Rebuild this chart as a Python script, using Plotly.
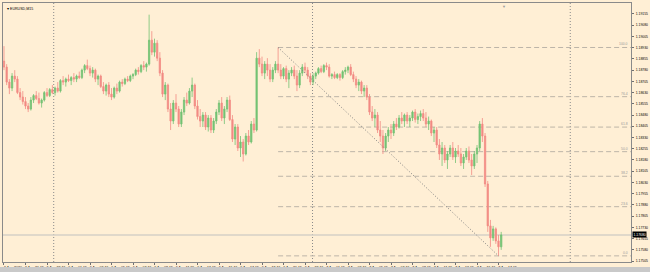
import plotly.graph_objects as go

# ---------------- data (EURUSD, M15) ----------------
open_ = [1.1884,1.1880,1.1870,1.1866,1.1874,1.1872,1.1863,1.1860,1.1857,1.1854,
 1.1852,1.1858,1.1861,1.1859,1.1856,1.1858,1.1863,1.1861,1.1865,1.1863,
 1.1866,1.1864,1.1871,1.1870,1.1872,1.1871,1.1873,1.1872,1.1874,1.1873,
 1.1878,1.1881,1.1879,1.1876,1.1878,1.1872,1.1874,1.1867,1.1864,1.1868,
 1.1862,1.1860,1.1866,1.1864,1.1870,1.1869,1.1872,1.1871,1.1874,1.1875,
 1.1878,1.1877,1.1881,1.1880,1.1882,1.1898,1.1890,1.1896,1.1886,1.1876,
 1.1862,1.1868,1.1852,1.1844,1.1856,1.1852,1.1842,1.1850,1.1858,1.1856,
 1.1864,1.1868,1.1854,1.1847,1.1844,1.1848,1.1840,1.1846,1.1838,1.1844,
 1.1850,1.1856,1.1846,1.1852,1.1858,1.1845,1.1832,1.1840,1.1826,1.1830,
 1.1822,1.1834,1.1830,1.1842,1.1838,1.1886,1.1882,1.1876,1.1882,1.1878,
 1.1872,1.1878,1.1882,1.1878,1.1874,1.1879,1.1872,1.1876,1.1878,1.1874,
 1.1868,1.1876,1.1880,1.1878,1.1874,1.1870,1.1874,1.1876,1.1879,1.1877,
 1.1881,1.1880,1.1874,1.1875,1.1873,1.1875,1.1873,1.1877,1.1878,1.1880,
 1.1875,1.1872,1.1868,1.1870,1.1864,1.1866,1.1860,1.1850,1.1846,1.1848,
 1.1838,1.1834,1.1826,1.1834,1.1838,1.1836,1.1842,1.1840,1.1846,1.1844,
 1.1848,1.1844,1.1846,1.1850,1.1845,1.1847,1.1849,1.1846,1.1842,1.1844,
 1.1836,1.1838,1.1828,1.1822,1.1826,1.1818,1.1822,1.1826,1.1820,1.1824,
 1.1822,1.1816,1.1820,1.1824,1.1818,1.1814,1.1822,1.1826,1.1842,1.1834,
 1.1802,1.1774,1.1766,1.1772,1.1764,1.1760]

high = [1.1894,1.1882,1.1872,1.1876,1.1878,1.1874,1.1866,1.1864,1.1860,1.1856,
 1.1860,1.1862,1.1864,1.1863,1.1859,1.1864,1.1866,1.1866,1.1868,1.1867,
 1.1870,1.1872,1.1874,1.1873,1.1875,1.1874,1.1876,1.1875,1.1877,1.1879,
 1.1882,1.1885,1.1881,1.1880,1.1879,1.1875,1.1875,1.1870,1.1869,1.1870,
 1.1866,1.1867,1.1869,1.1871,1.1872,1.1873,1.1874,1.1875,1.1876,1.1879,
 1.1880,1.1882,1.1884,1.1883,1.1915,1.1904,1.1899,1.1898,1.1890,1.1878,
 1.1870,1.1869,1.1856,1.1858,1.1862,1.1854,1.1852,1.1860,1.1863,1.1866,
 1.1873,1.1869,1.1858,1.1852,1.1850,1.1850,1.1848,1.1848,1.1846,1.1852,
 1.1858,1.1860,1.1854,1.1860,1.1861,1.1848,1.1842,1.1842,1.1834,1.1832,
 1.1836,1.1838,1.1844,1.1846,1.1890,1.1892,1.1887,1.1884,1.1886,1.1882,
 1.1880,1.1884,1.18931,1.1882,1.1880,1.1881,1.1878,1.1880,1.1881,1.1878,
 1.1878,1.1882,1.1883,1.1880,1.1876,1.1876,1.1877,1.1880,1.1881,1.1882,
 1.1883,1.1882,1.1876,1.1877,1.1876,1.1876,1.1878,1.1880,1.1881,1.1882,
 1.1877,1.1874,1.1872,1.1871,1.1868,1.1868,1.1862,1.1854,1.1852,1.1850,
 1.1844,1.1838,1.1836,1.1840,1.1842,1.1844,1.1846,1.1848,1.1850,1.1849,
 1.1850,1.1848,1.1851,1.1852,1.1849,1.1851,1.1852,1.1850,1.1847,1.1845,
 1.1840,1.1840,1.1832,1.1830,1.1828,1.1824,1.1828,1.1830,1.1826,1.1828,
 1.1826,1.1822,1.1826,1.1827,1.1822,1.1824,1.1828,1.1844,1.1846,1.1836,
 1.1804,1.1778,1.1774,1.1773,1.1768,1.1770]

low = [1.1878,1.1868,1.1862,1.1864,1.1870,1.1862,1.1858,1.1855,1.1852,1.1850,
 1.1851,1.1856,1.1858,1.1855,1.1853,1.1857,1.1860,1.1860,1.1862,1.1861,
 1.1863,1.1863,1.1868,1.1867,1.1870,1.1868,1.1870,1.1870,1.1872,1.1872,
 1.1876,1.1878,1.1874,1.1873,1.1870,1.1868,1.1866,1.1862,1.1861,1.1860,
 1.1858,1.1859,1.1862,1.1863,1.1867,1.1868,1.1870,1.1870,1.1872,1.1874,
 1.1875,1.1876,1.1878,1.1877,1.1881,1.1888,1.1887,1.1884,1.1874,1.1860,
 1.1858,1.1850,1.1838,1.1842,1.1850,1.1840,1.1840,1.1848,1.1854,1.1855,
 1.1860,1.1852,1.1845,1.1840,1.1840,1.1838,1.1837,1.1836,1.1836,1.1842,
 1.1848,1.1844,1.1842,1.1850,1.1844,1.1830,1.1828,1.1824,1.1820,1.1817,
 1.1821,1.1828,1.1829,1.1836,1.1837,1.1880,1.1874,1.1872,1.1874,1.1870,
 1.1870,1.1876,1.1876,1.1872,1.1872,1.1870,1.1866,1.1874,1.1872,1.1864,
 1.1866,1.1874,1.1876,1.1872,1.1868,1.1868,1.1872,1.1875,1.1876,1.1876,
 1.1878,1.1873,1.1872,1.1872,1.1872,1.1871,1.1872,1.1875,1.1876,1.1874,
 1.1870,1.1866,1.1864,1.1862,1.1860,1.1858,1.1848,1.1844,1.1840,1.1836,
 1.1830,1.1822,1.1824,1.1830,1.1832,1.1834,1.1838,1.1839,1.1842,1.1840,
 1.1842,1.1840,1.1844,1.1843,1.1842,1.1844,1.1844,1.1840,1.1838,1.1834,
 1.1830,1.1826,1.1818,1.1814,1.1816,1.1812,1.1820,1.1818,1.1816,1.1820,
 1.1814,1.1812,1.1818,1.1816,1.1808,1.1812,1.1816,1.1824,1.1830,1.1800,
 1.1770,1.1760,1.1764,1.1762,1.1754,1.1758]

close = [1.1880,1.1870,1.1866,1.1874,1.1872,1.1863,1.1860,1.1857,1.1854,1.1852,
 1.1858,1.1861,1.1859,1.1856,1.1858,1.1863,1.1861,1.1865,1.1863,1.1866,
 1.1864,1.1871,1.1870,1.1872,1.1871,1.1873,1.1872,1.1874,1.1873,1.1878,
 1.1881,1.1879,1.1876,1.1878,1.1872,1.1874,1.1867,1.1864,1.1868,1.1862,
 1.1860,1.1866,1.1864,1.1870,1.1869,1.1872,1.1871,1.1874,1.1875,1.1878,
 1.1877,1.1881,1.1880,1.1882,1.1898,1.1890,1.1896,1.1886,1.1876,1.1862,
 1.1868,1.1852,1.1844,1.1856,1.1852,1.1842,1.1850,1.1858,1.1856,1.1864,
 1.1868,1.1854,1.1847,1.1844,1.1848,1.1840,1.1846,1.1838,1.1844,1.1850,
 1.1856,1.1846,1.1852,1.1858,1.1845,1.1832,1.1840,1.1826,1.1830,1.1822,
 1.1834,1.1830,1.1842,1.1838,1.1886,1.1882,1.1876,1.1882,1.1878,1.1872,
 1.1878,1.1882,1.1878,1.1874,1.1879,1.1872,1.1876,1.1878,1.1874,1.1868,
 1.1876,1.1880,1.1878,1.1874,1.1870,1.1874,1.1876,1.1879,1.1877,1.1881,
 1.1880,1.1874,1.1875,1.1873,1.1875,1.1873,1.1877,1.1878,1.1880,1.1875,
 1.1872,1.1868,1.1870,1.1864,1.1866,1.1860,1.1850,1.1846,1.1848,1.1838,
 1.1834,1.1826,1.1834,1.1838,1.1836,1.1842,1.1840,1.1846,1.1844,1.1848,
 1.1844,1.1846,1.1850,1.1845,1.1847,1.1849,1.1846,1.1842,1.1844,1.1836,
 1.1838,1.1828,1.1822,1.1826,1.1818,1.1822,1.1826,1.1820,1.1824,1.1822,
 1.1816,1.1820,1.1824,1.1818,1.1814,1.1822,1.1826,1.1842,1.1834,1.1802,
 1.1774,1.1766,1.1772,1.1764,1.1760,1.1768]

time_tick_bars = [0, 8, 16, 24, 32, 40, 48, 56, 64, 72, 80, 88, 96, 104, 112,
                  120, 128, 136, 144, 152, 160, 168, 176, 184]
time_tick_labels = ["5 Aug 2020", "5 Aug 21:15", "5 Aug 23:15", "6 Aug 01:15",
                    "6 Aug 03:15", "6 Aug 05:15", "6 Aug 07:15", "6 Aug 09:15",
                    "6 Aug 11:15", "6 Aug 13:15", "6 Aug 15:15", "6 Aug 17:15",
                    "6 Aug 19:15", "6 Aug 21:15", "6 Aug 23:15", "7 Aug 01:15",
                    "7 Aug 03:15", "7 Aug 05:15", "7 Aug 07:15", "7 Aug 09:15",
                    "7 Aug 11:15", "7 Aug 13:15", "7 Aug 15:15", "7 Aug 17:15"]

price_ticks = [1.19155, 1.19080, 1.19005, 1.18930, 1.18855, 1.18780, 1.18705,
               1.18630, 1.18555, 1.18480, 1.18405, 1.18330, 1.18255, 1.18180,
               1.18105, 1.18030, 1.17955, 1.17880, 1.17805, 1.17730, 1.17655,
               1.17580, 1.17505]

day_separators = [18.5, 114.8, 210.7]      # bar positions of period separators
fib_anchor_bars = [102, 184]                # high bar -> low bar
fib_levels = [0.0, 23.6, 38.2, 50.0, 61.8, 76.4, 100.0]

symbol_title = "EURUSD,M15"

# ---------------- figure ----------------
BG = "#FFEFD5"
UP = "#74C274"
DOWN = "#F28B84"
bars = list(range(len(close)))
x_range = [-0.37, 233.3]
y_range = [1.17499, 1.19228]

fig = go.Figure()
fig.add_trace(go.Candlestick(
    x=bars, open=open_, high=high, low=low, close=close,
    increasing=dict(line=dict(color=UP, width=0.8), fillcolor=UP),
    decreasing=dict(line=dict(color=DOWN, width=0.8), fillcolor=DOWN),
    whiskerwidth=0, hoverinfo="skip", showlegend=False,
))

shapes = []
# period separators
for s in day_separators:
    shapes.append(dict(type="line", xref="x", yref="paper", x0=s, x1=s, y0=0, y1=1,
                       line=dict(color="#8a8a8a", width=1, dash="1px,2px"), layer="below"))
# current price line
shapes.append(dict(type="line", xref="paper", yref="y", x0=0, x1=1,
                   y0=close[-1], y1=close[-1],
                   line=dict(color="#D6D0C6", width=1.5), layer="below"))
# fibonacci
fhi = high[fib_anchor_bars[0]]
flo = low[fib_anchor_bars[1]]
annotations = []
for lv in fib_levels:
    yv = flo + (fhi - flo) * lv / 100.0
    shapes.append(dict(type="line", xref="x", yref="y", x0=fib_anchor_bars[0], x1=x_range[1],
                       y0=yv, y1=yv, line=dict(color="#BDB5A8", width=1, dash="5px,3px"),
                       layer="below"))
    annotations.append(dict(x=x_range[1], y=yv, xref="x", yref="y", xanchor="right",
                            yanchor="bottom", text=f"{lv:.1f}", showarrow=False,
                            font=dict(size=3.4, color="#9a9a9a", family="Liberation Sans"),
                            xshift=-1, yshift=-1))
shapes.append(dict(type="line", xref="x", yref="y", x0=fib_anchor_bars[0], y0=fhi,
                   x1=fib_anchor_bars[1], y1=flo,
                   line=dict(color="#808080", width=1, dash="1px,2px")))
# bottom status strip
shapes.append(dict(type="rect", xref="paper", yref="paper", x0=-0.01, x1=1.05,
                   y0=-0.0195, y1=-0.04, fillcolor="#C9C9C9", line=dict(width=0)))

# current price box
annotations.append(dict(x=1, y=close[-1], xref="paper", yref="y", xanchor="left",
                        yanchor="middle", text=f"{close[-1]:.5f}", showarrow=False,
                        bgcolor="#000000", font=dict(size=3.4, color="#ffffff",
                                                     family="Liberation Sans"),
                        borderpad=0.5, xshift=1))
# title
annotations.append(dict(x=0, y=1, xref="paper", yref="paper", xanchor="left",
                        yanchor="top", text="▾ " + symbol_title, showarrow=False,
                        font=dict(size=3.6, color="#000000", family="Liberation Sans"),
                        xshift=2, yshift=-2))
# chart shift marker
annotations.append(dict(x=bars[-1] + 1, y=1, xref="x", yref="paper", yanchor="top",
                        text="▼", showarrow=False,
                        font=dict(size=4, color="#9a9a9a"), yshift=1))

fig.update_layout(
    width=650, height=272,
    margin=dict(l=2, r=17, t=2, b=8),
    paper_bgcolor=BG, plot_bgcolor=BG,
    shapes=shapes, annotations=annotations,
    showlegend=False, hovermode=False,
    font=dict(family="Liberation Sans", color="#000000"),
)
fig.update_xaxes(
    range=x_range, rangeslider=dict(visible=False),
    tickmode="array", tickvals=time_tick_bars, ticktext=time_tick_labels,
    tickfont=dict(size=3.5, color="#000000"), ticklabelshift=9, ticklabelstandoff=0,
    ticks="outside", ticklen=2, tickcolor="#707070", tickwidth=1,
    showgrid=False, zeroline=False,
    showline=True, mirror=True, linecolor="#8a8a8a", linewidth=1,
)
fig.update_yaxes(
    side="right", range=y_range,
    tickmode="array", tickvals=price_ticks, ticktext=[f"{v:.5f}" for v in price_ticks],
    tickfont=dict(size=3.4, color="#000000"), ticklabelstandoff=1,
    ticks="outside", ticklen=2, tickcolor="#707070", tickwidth=1,
    showgrid=False, zeroline=False,
    showline=True, mirror=True, linecolor="#8a8a8a", linewidth=1,
)

fig.write_html("out.html")
